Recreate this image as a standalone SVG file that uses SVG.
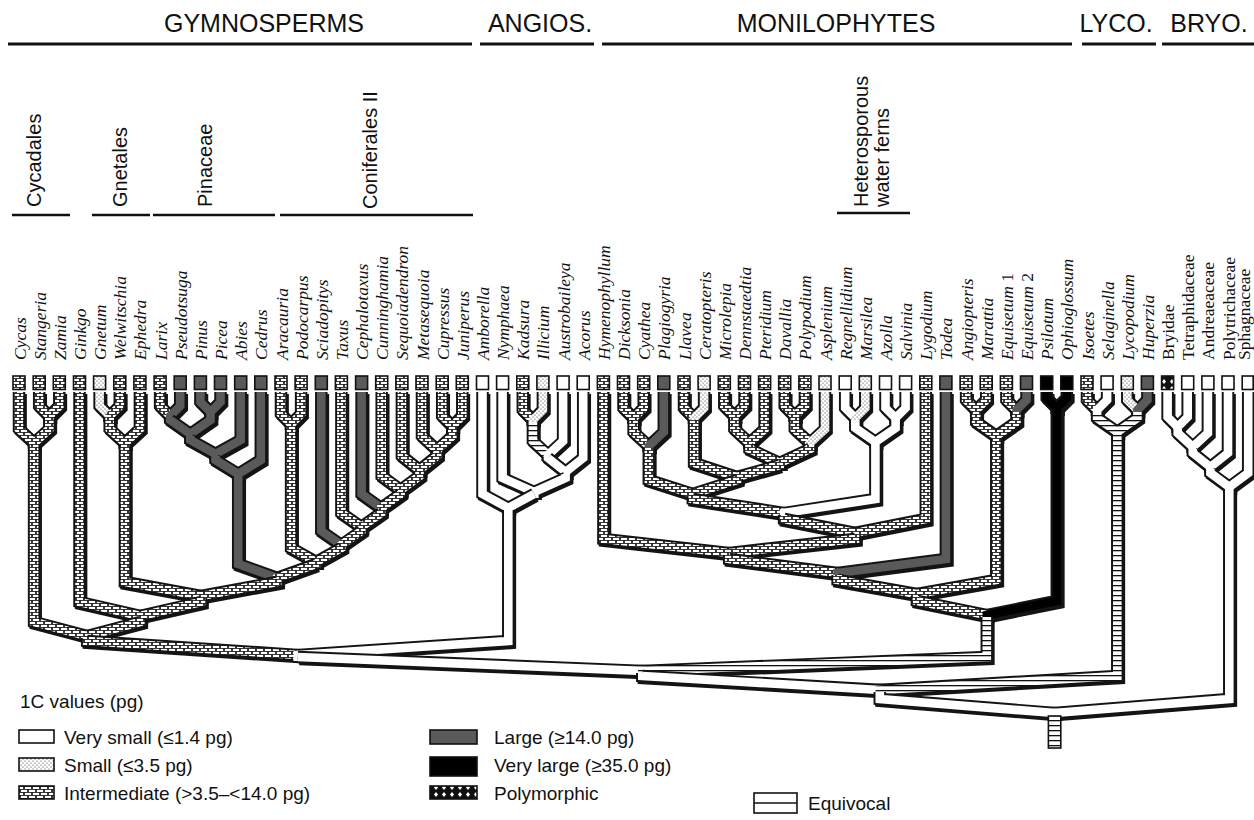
<svg xmlns="http://www.w3.org/2000/svg" width="1254" height="820" viewBox="0 0 1254 820">
<style>
.hd{font-family:"Liberation Sans",Arial,sans-serif;font-size:25px;text-anchor:middle;fill:#111}
.gl{font-family:"Liberation Sans",Arial,sans-serif;font-size:20px;fill:#111}
.tx{font-family:"Liberation Serif","Times New Roman",serif;font-size:17.5px;font-style:italic;fill:#111}
.rm{font-style:normal}
.lg{font-family:"Liberation Sans",Arial,sans-serif;font-size:19px;fill:#111}
.hb{stroke:#111;stroke-width:3}
.gb{stroke:#111;stroke-width:2.5}
.box{stroke:#111;stroke-width:1.6}
.bi{fill:url(#pInt)}.bs{fill:url(#pSm)}.bl{fill:#5a5a5a}.bv{fill:#000}.bw{fill:#fff}.bp{fill:url(#pPoly)}.be{fill:url(#pEq)}
#branches use{fill:none;stroke-linejoin:miter;stroke-miterlimit:6}
.o{stroke:#141414;stroke-width:12.5}
.f{stroke-width:8.6}
.fi{stroke:url(#pInt)}.fs{stroke:url(#pSm)}.fl{stroke:#5a5a5a}.fv{stroke:#000}.fw{stroke:#fff}.fe{stroke:url(#pEq)}
</style>
<defs>
<pattern id="pInt" width="8" height="6" patternUnits="userSpaceOnUse">
<rect width="8" height="6" fill="#222"/>
<rect x="0.9" y="0.9" width="6.2" height="2.1" fill="#fff"/>
<rect x="-3.1" y="3.9" width="6.2" height="2.1" fill="#fff"/>
<rect x="4.9" y="3.9" width="6.2" height="2.1" fill="#fff"/>
</pattern>
<pattern id="pSm" width="4" height="4" patternUnits="userSpaceOnUse">
<rect width="4" height="4" fill="#fff"/>
<circle cx="1" cy="1" r="0.6" fill="#333"/>
<circle cx="3" cy="3" r="0.6" fill="#333"/>
</pattern>
<pattern id="pEq" width="6" height="5" patternUnits="userSpaceOnUse">
<rect width="6" height="5" fill="#fff"/>
<rect width="6" height="1.3" fill="#111"/>
</pattern>
<pattern id="pPoly" width="8" height="7" patternUnits="userSpaceOnUse">
<rect width="8" height="7" fill="#111"/>
<path d="M4 1L6 3.5L4 6L2 3.5Z" fill="#fff"/>
</pattern>
<g id="edges">
<path id="e1" d="M39.2 392V406L49.3 416V422"/>
<path id="e2" d="M59.3 392V406L49.3 416V422"/>
<path id="e3" d="M19 392V429L34.1 443V449"/>
<path id="e4" d="M49.3 418V429L34.1 443V449"/>
<path id="e5" d="M99.6 392V406L109.7 416V422"/>
<path id="e6" d="M119.8 392V406L109.7 416V422"/>
<path id="e7" d="M109.7 418V429L124.9 443V449"/>
<path id="e8" d="M139.9 392V429L124.9 443V449"/>
<path id="e9" d="M160.1 392V406L170.2 416V422"/>
<path id="e10" d="M180.2 392V406L170.2 416V422"/>
<path id="e11" d="M200.4 392V402L210.5 412V418"/>
<path id="e12" d="M220.5 392V402L210.5 412V418"/>
<path id="e13" d="M170.2 418V420L190.3 434V440"/>
<path id="e14" d="M210.5 414V420L190.3 434V440"/>
<path id="e15" d="M190.3 436V440L215.5 454V460"/>
<path id="e16" d="M240.7 392V440L215.5 454V460"/>
<path id="e17" d="M215.5 456V460L238.2 474V480"/>
<path id="e18" d="M260.8 392V460L238.2 474V480"/>
<path id="e19" d="M281 392V414L291.1 424V430"/>
<path id="e20" d="M301.1 392V414L291.1 424V430"/>
<path id="e21" d="M442.2 392V416L452.3 426V432"/>
<path id="e22" d="M462.3 392V416L452.3 426V432"/>
<path id="e23" d="M422 392V436L437.1 450V456"/>
<path id="e24" d="M452.3 428V436L437.1 450V456"/>
<path id="e25" d="M401.9 392V456L419.5 470V476"/>
<path id="e26" d="M437.1 452V456L419.5 470V476"/>
<path id="e27" d="M381.7 392V476L400.6 490V496"/>
<path id="e28" d="M419.5 472V476L400.6 490V496"/>
<path id="e29" d="M361.6 392V494L381.1 508V514"/>
<path id="e30" d="M400.6 492V494L381.1 508V514"/>
<path id="e31" d="M341.4 392V513L361.3 527V533"/>
<path id="e32" d="M381.1 510V513L361.3 527V533"/>
<path id="e33" d="M321.3 392V531L341.3 545V551"/>
<path id="e34" d="M361.3 529V531L341.3 545V551"/>
<path id="e35" d="M291.1 426V548L316.2 562V568"/>
<path id="e36" d="M341.3 547V548L316.2 562V568"/>
<path id="e37" d="M238.2 476V564L277.2 578V584"/>
<path id="e38" d="M316.2 564L277.2 578V584"/>
<path id="e39" d="M124.9 445V582L201 596V602"/>
<path id="e40" d="M277.2 580V582L201 596V602"/>
<path id="e41" d="M79.5 392V602L140.3 616V622"/>
<path id="e42" d="M201 598V602L140.3 616V622"/>
<path id="e43" d="M34.1 445V622L87.2 636V642"/>
<path id="e44" d="M140.3 618V622L87.2 636V642"/>
<path id="e45" d="M522.8 392V410L532.9 420V426"/>
<path id="e46" d="M542.9 392V410L532.9 420V426"/>
<path id="e47" d="M532.9 422V441L548 455V461"/>
<path id="e48" d="M563.1 392V441L548 455V461"/>
<path id="e49" d="M548 457V458L565.6 472V478"/>
<path id="e50" d="M583.2 392V458L565.6 472V478"/>
<path id="e51" d="M502.6 392V478L534.1 492V498"/>
<path id="e52" d="M565.6 474V478L534.1 492V498"/>
<path id="e53" d="M482.5 392V494L508.3 508V514"/>
<path id="e54" d="M534.1 494L508.3 508V514"/>
<path id="e55" d="M87.2 638V641L297.8 655V661"/>
<path id="e56" d="M508.3 510V641L297.8 655V661"/>
<path id="e57" d="M623.5 392V408L633.6 418V424"/>
<path id="e58" d="M643.7 392V408L633.6 418V424"/>
<path id="e59" d="M633.6 420V432L648.8 446V452"/>
<path id="e60" d="M663.8 392V432L648.8 446V452"/>
<path id="e61" d="M684 392V408L694.1 418V424"/>
<path id="e62" d="M704.1 392V408L694.1 418V424"/>
<path id="e63" d="M724.3 392V406L734.4 416V422"/>
<path id="e64" d="M744.5 392V406L734.4 416V422"/>
<path id="e65" d="M734.4 418V429L749.5 443V449"/>
<path id="e66" d="M764.6 392V429L749.5 443V449"/>
<path id="e67" d="M784.7 392V406L794.8 416V422"/>
<path id="e68" d="M804.9 392V406L794.8 416V422"/>
<path id="e69" d="M794.8 418V429L809.9 443V449"/>
<path id="e70" d="M825 392V429L809.9 443V449"/>
<path id="e71" d="M749.5 445V449L779.7 463V469"/>
<path id="e72" d="M809.9 445V449L779.7 463V469"/>
<path id="e73" d="M694.1 420V463L736.9 477V483"/>
<path id="e74" d="M779.7 465L736.9 477V483"/>
<path id="e75" d="M648.8 448V480L692.8 494V500"/>
<path id="e76" d="M736.9 479V480L692.8 494V500"/>
<path id="e77" d="M845.2 392V408L855.3 418V424"/>
<path id="e78" d="M865.3 392V408L855.3 418V424"/>
<path id="e79" d="M885.5 392V408L895.6 418V424"/>
<path id="e80" d="M905.6 392V408L895.6 418V424"/>
<path id="e81" d="M855.3 420V428L875.4 442V448"/>
<path id="e82" d="M895.6 420V428L875.4 442V448"/>
<path id="e83" d="M692.8 496V499L784.1 513V519"/>
<path id="e84" d="M875.4 444V499L784.1 513V519"/>
<path id="e85" d="M784.1 515V519L855 533V539"/>
<path id="e86" d="M925.8 392V519L855 533V539"/>
<path id="e87" d="M603.4 392V539L729.2 553V559"/>
<path id="e88" d="M855 535V539L729.2 553V559"/>
<path id="e89" d="M729.2 555V559L837.6 573V579"/>
<path id="e90" d="M945.9 392V559L837.6 573V579"/>
<path id="e91" d="M966.1 392V400L976.2 410V416"/>
<path id="e92" d="M986.2 392V400L976.2 410V416"/>
<path id="e93" d="M1006.4 392V400L1016.5 410V416"/>
<path id="e94" d="M1026.5 392V400L1016.5 410V416"/>
<path id="e95" d="M976.2 412V422L996.3 436V442"/>
<path id="e96" d="M1016.5 412V422L996.3 436V442"/>
<path id="e97" d="M837.6 575V580L916.9 594V600"/>
<path id="e98" d="M996.3 438V580L916.9 594V600"/>
<path id="e99" d="M1046.7 392V398L1056.8 408V414"/>
<path id="e100" d="M1066.8 392V398L1056.8 408V414"/>
<path id="e101" d="M916.9 596V601L986.8 615V621"/>
<path id="e102" d="M1056.8 410V601L986.8 615V621"/>
<path id="e103" d="M297.8 657L642.3 671V677"/>
<path id="e104" d="M986.8 617V657L642.3 671V677"/>
<path id="e105" d="M1087 392V400L1097.1 410V416"/>
<path id="e106" d="M1107.1 392V400L1097.1 410V416"/>
<path id="e107" d="M1127.3 392V400L1137.4 410V416"/>
<path id="e108" d="M1147.4 392V400L1137.4 410V416"/>
<path id="e109" d="M1097.1 412V418L1117.3 432V438"/>
<path id="e110" d="M1137.4 412V418L1117.3 432V438"/>
<path id="e111" d="M642.3 673V676L879.8 690V696"/>
<path id="e112" d="M1117.3 434V676L879.8 690V696"/>
<path id="e113" d="M1167.6 392V417L1177.7 427V433"/>
<path id="e114" d="M1187.7 392V417L1177.7 427V433"/>
<path id="e115" d="M1177.7 429V433L1192.8 447V453"/>
<path id="e116" d="M1207.9 392V433L1192.8 447V453"/>
<path id="e117" d="M1192.8 449V453L1210.4 467V473"/>
<path id="e118" d="M1228 392V453L1210.4 467V473"/>
<path id="e119" d="M1210.4 469V473L1229.3 487V493"/>
<path id="e120" d="M1248.2 392V473L1229.3 487V493"/>
<path id="e121" d="M879.8 692V699L1054.6 713V719"/>
<path id="e122" d="M1229.3 489V699L1054.6 713V719"/>
</g>
</defs>
<rect width="1254" height="820" fill="#fff"/>

<g id="headers">
<text class="hd" x="264" y="32">GYMNOSPERMS</text>
<text class="hd" x="540" y="32">ANGIOS.</text>
<text class="hd" x="836" y="32">MONILOPHYTES</text>
<text class="hd" x="1116" y="32">LYCO.</text>
<text class="hd" x="1209" y="32">BRYO.</text>
<line class="hb" x1="8" y1="44" x2="472" y2="44"/>
<line class="hb" x1="480" y1="44" x2="594" y2="44"/>
<line class="hb" x1="602" y1="44" x2="1072" y2="44"/>
<line class="hb" x1="1082" y1="44" x2="1156" y2="44"/>
<line class="hb" x1="1162" y1="44" x2="1254" y2="44"/>
</g>

<g id="groups">
<text class="gl" transform="translate(40.5 207) rotate(-90)">Cycadales</text>
<line class="gb" x1="12" y1="215" x2="70" y2="215"/>
<text class="gl" transform="translate(127 207) rotate(-90)">Gnetales</text>
<line class="gb" x1="92" y1="215" x2="150" y2="215"/>
<text class="gl" transform="translate(212 207) rotate(-90)">Pinaceae</text>
<line class="gb" x1="153" y1="215" x2="275" y2="215"/>
<text class="gl" transform="translate(377 209) rotate(-90)">Coniferales II</text>
<line class="gb" x1="280" y1="215" x2="473" y2="215"/>
<text class="gl" transform="translate(868 207) rotate(-90)">Heterosporous</text>
<text class="gl" transform="translate(889 207) rotate(-90)">water ferns</text>
<line class="gb" x1="837" y1="213" x2="910" y2="213"/>
</g>

<g id="branches">
<use href="#edges" transform="translate(1.6 2)" style="fill:none;stroke:#141414;stroke-width:12.5;stroke-linejoin:miter"/>
<use class="o" href="#e1"/><use class="o" href="#e2"/><use class="f fi" href="#e1"/><use class="f fi" href="#e2"/>
<use class="o" href="#e3"/><use class="o" href="#e4"/><use class="f fi" href="#e3"/><use class="f fi" href="#e4"/>
<use class="o" href="#e5"/><use class="o" href="#e6"/><use class="f fs" href="#e5"/><use class="f fi" href="#e6"/>
<use class="o" href="#e7"/><use class="o" href="#e8"/><use class="f fi" href="#e7"/><use class="f fi" href="#e8"/>
<use class="o" href="#e9"/><use class="o" href="#e10"/><use class="f fi" href="#e9"/><use class="f fl" href="#e10"/>
<use class="o" href="#e11"/><use class="o" href="#e12"/><use class="f fl" href="#e11"/><use class="f fl" href="#e12"/>
<use class="o" href="#e13"/><use class="o" href="#e14"/><use class="f fl" href="#e13"/><use class="f fl" href="#e14"/>
<use class="o" href="#e15"/><use class="o" href="#e16"/><use class="f fl" href="#e15"/><use class="f fl" href="#e16"/>
<use class="o" href="#e17"/><use class="o" href="#e18"/><use class="f fl" href="#e17"/><use class="f fl" href="#e18"/>
<use class="o" href="#e19"/><use class="o" href="#e20"/><use class="f fi" href="#e19"/><use class="f fi" href="#e20"/>
<use class="o" href="#e21"/><use class="o" href="#e22"/><use class="f fi" href="#e21"/><use class="f fi" href="#e22"/>
<use class="o" href="#e23"/><use class="o" href="#e24"/><use class="f fi" href="#e23"/><use class="f fi" href="#e24"/>
<use class="o" href="#e25"/><use class="o" href="#e26"/><use class="f fi" href="#e25"/><use class="f fi" href="#e26"/>
<use class="o" href="#e27"/><use class="o" href="#e28"/><use class="f fi" href="#e27"/><use class="f fi" href="#e28"/>
<use class="o" href="#e29"/><use class="o" href="#e30"/><use class="f fl" href="#e29"/><use class="f fi" href="#e30"/>
<use class="o" href="#e31"/><use class="o" href="#e32"/><use class="f fi" href="#e31"/><use class="f fi" href="#e32"/>
<use class="o" href="#e33"/><use class="o" href="#e34"/><use class="f fl" href="#e33"/><use class="f fi" href="#e34"/>
<use class="o" href="#e35"/><use class="o" href="#e36"/><use class="f fi" href="#e35"/><use class="f fi" href="#e36"/>
<use class="o" href="#e37"/><use class="o" href="#e38"/><use class="f fl" href="#e37"/><use class="f fi" href="#e38"/>
<use class="o" href="#e39"/><use class="o" href="#e40"/><use class="f fi" href="#e39"/><use class="f fi" href="#e40"/>
<use class="o" href="#e41"/><use class="o" href="#e42"/><use class="f fi" href="#e41"/><use class="f fi" href="#e42"/>
<use class="o" href="#e43"/><use class="o" href="#e44"/><use class="f fi" href="#e43"/><use class="f fi" href="#e44"/>
<use class="o" href="#e45"/><use class="o" href="#e46"/><use class="f fi" href="#e45"/><use class="f fs" href="#e46"/>
<use class="o" href="#e47"/><use class="o" href="#e48"/><use class="f fe" href="#e47"/><use class="f fw" href="#e48"/>
<use class="o" href="#e49"/><use class="o" href="#e50"/><use class="f fw" href="#e49"/><use class="f fw" href="#e50"/>
<use class="o" href="#e51"/><use class="o" href="#e52"/><use class="f fw" href="#e51"/><use class="f fw" href="#e52"/>
<use class="o" href="#e53"/><use class="o" href="#e54"/><use class="f fw" href="#e53"/><use class="f fw" href="#e54"/>
<use class="o" href="#e55"/><use class="o" href="#e56"/><use class="f fi" href="#e55"/><use class="f fw" href="#e56"/>
<use class="o" href="#e57"/><use class="o" href="#e58"/><use class="f fi" href="#e57"/><use class="f fi" href="#e58"/>
<use class="o" href="#e59"/><use class="o" href="#e60"/><use class="f fi" href="#e59"/><use class="f fl" href="#e60"/>
<use class="o" href="#e61"/><use class="o" href="#e62"/><use class="f fi" href="#e61"/><use class="f fs" href="#e62"/>
<use class="o" href="#e63"/><use class="o" href="#e64"/><use class="f fi" href="#e63"/><use class="f fi" href="#e64"/>
<use class="o" href="#e65"/><use class="o" href="#e66"/><use class="f fi" href="#e65"/><use class="f fi" href="#e66"/>
<use class="o" href="#e67"/><use class="o" href="#e68"/><use class="f fi" href="#e67"/><use class="f fi" href="#e68"/>
<use class="o" href="#e69"/><use class="o" href="#e70"/><use class="f fi" href="#e69"/><use class="f fs" href="#e70"/>
<use class="o" href="#e71"/><use class="o" href="#e72"/><use class="f fi" href="#e71"/><use class="f fi" href="#e72"/>
<use class="o" href="#e73"/><use class="o" href="#e74"/><use class="f fi" href="#e73"/><use class="f fi" href="#e74"/>
<use class="o" href="#e75"/><use class="o" href="#e76"/><use class="f fi" href="#e75"/><use class="f fi" href="#e76"/>
<use class="o" href="#e77"/><use class="o" href="#e78"/><use class="f fw" href="#e77"/><use class="f fs" href="#e78"/>
<use class="o" href="#e79"/><use class="o" href="#e80"/><use class="f fw" href="#e79"/><use class="f fw" href="#e80"/>
<use class="o" href="#e81"/><use class="o" href="#e82"/><use class="f fw" href="#e81"/><use class="f fw" href="#e82"/>
<use class="o" href="#e83"/><use class="o" href="#e84"/><use class="f fi" href="#e83"/><use class="f fw" href="#e84"/>
<use class="o" href="#e85"/><use class="o" href="#e86"/><use class="f fi" href="#e85"/><use class="f fi" href="#e86"/>
<use class="o" href="#e87"/><use class="o" href="#e88"/><use class="f fi" href="#e87"/><use class="f fi" href="#e88"/>
<use class="o" href="#e89"/><use class="o" href="#e90"/><use class="f fi" href="#e89"/><use class="f fl" href="#e90"/>
<use class="o" href="#e91"/><use class="o" href="#e92"/><use class="f fi" href="#e91"/><use class="f fi" href="#e92"/>
<use class="o" href="#e93"/><use class="o" href="#e94"/><use class="f fi" href="#e93"/><use class="f fl" href="#e94"/>
<use class="o" href="#e95"/><use class="o" href="#e96"/><use class="f fi" href="#e95"/><use class="f fi" href="#e96"/>
<use class="o" href="#e97"/><use class="o" href="#e98"/><use class="f fi" href="#e97"/><use class="f fi" href="#e98"/>
<use class="o" href="#e99"/><use class="o" href="#e100"/><use class="f fv" href="#e99"/><use class="f fv" href="#e100"/>
<use class="o" href="#e101"/><use class="o" href="#e102"/><use class="f fi" href="#e101"/><use class="f fv" href="#e102"/>
<use class="o" href="#e103"/><use class="o" href="#e104"/><use class="f fw" href="#e103"/><use class="f fe" href="#e104"/>
<use class="o" href="#e105"/><use class="o" href="#e106"/><use class="f fi" href="#e105"/><use class="f fw" href="#e106"/>
<use class="o" href="#e107"/><use class="o" href="#e108"/><use class="f fs" href="#e107"/><use class="f fl" href="#e108"/>
<use class="o" href="#e109"/><use class="o" href="#e110"/><use class="f fe" href="#e109"/><use class="f fe" href="#e110"/>
<use class="o" href="#e111"/><use class="o" href="#e112"/><use class="f fw" href="#e111"/><use class="f fe" href="#e112"/>
<use class="o" href="#e113"/><use class="o" href="#e114"/><use class="f fw" href="#e113"/><use class="f fw" href="#e114"/>
<use class="o" href="#e115"/><use class="o" href="#e116"/><use class="f fw" href="#e115"/><use class="f fw" href="#e116"/>
<use class="o" href="#e117"/><use class="o" href="#e118"/><use class="f fw" href="#e117"/><use class="f fw" href="#e118"/>
<use class="o" href="#e119"/><use class="o" href="#e120"/><use class="f fw" href="#e119"/><use class="f fw" href="#e120"/>
<use class="o" href="#e121"/><use class="o" href="#e122"/><use class="f fw" href="#e121"/><use class="f fw" href="#e122"/>
<rect class="box be" x="1048.4" y="716" width="12.4" height="32"/>
</g>

<g id="taxa">
<g id="t-cycas"><rect class="box bi" x="13" y="376" width="12" height="13.5"/><text class="tx" transform="translate(25.5 360) rotate(-90)">Cycas</text></g>
<g id="t-stangeria"><rect class="box bi" x="33.2" y="376" width="12" height="13.5"/><text class="tx" transform="translate(45.7 360) rotate(-90)">Stangeria</text></g>
<g id="t-zamia"><rect class="box bi" x="53.3" y="376" width="12" height="13.5"/><text class="tx" transform="translate(65.8 360) rotate(-90)">Zamia</text></g>
<g id="t-ginkgo"><rect class="box bi" x="73.5" y="376" width="12" height="13.5"/><text class="tx" transform="translate(86 360) rotate(-90)">Ginkgo</text></g>
<g id="t-gnetum"><rect class="box bs" x="93.6" y="376" width="12" height="13.5"/><text class="tx" transform="translate(106.1 360) rotate(-90)">Gnetum</text></g>
<g id="t-welwitschia"><rect class="box bi" x="113.8" y="376" width="12" height="13.5"/><text class="tx" transform="translate(126.3 360) rotate(-90)">Welwitschia</text></g>
<g id="t-ephedra"><rect class="box bi" x="133.9" y="376" width="12" height="13.5"/><text class="tx" transform="translate(146.4 360) rotate(-90)">Ephedra</text></g>
<g id="t-larix"><rect class="box bi" x="154.1" y="376" width="12" height="13.5"/><text class="tx" transform="translate(166.6 360) rotate(-90)">Larix</text></g>
<g id="t-pseudotsuga"><rect class="box bl" x="174.2" y="376" width="12" height="13.5"/><text class="tx" transform="translate(186.7 360) rotate(-90)">Pseudotsuga</text></g>
<g id="t-pinus"><rect class="box bl" x="194.4" y="376" width="12" height="13.5"/><text class="tx" transform="translate(206.9 360) rotate(-90)">Pinus</text></g>
<g id="t-picea"><rect class="box bl" x="214.5" y="376" width="12" height="13.5"/><text class="tx" transform="translate(227 360) rotate(-90)">Picea</text></g>
<g id="t-abies"><rect class="box bl" x="234.7" y="376" width="12" height="13.5"/><text class="tx" transform="translate(247.2 360) rotate(-90)">Abies</text></g>
<g id="t-cedrus"><rect class="box bl" x="254.8" y="376" width="12" height="13.5"/><text class="tx" transform="translate(267.3 360) rotate(-90)">Cedrus</text></g>
<g id="t-aracauria"><rect class="box bi" x="275" y="376" width="12" height="13.5"/><text class="tx" transform="translate(287.5 360) rotate(-90)">Aracauria</text></g>
<g id="t-podocarpus"><rect class="box bi" x="295.1" y="376" width="12" height="13.5"/><text class="tx" transform="translate(307.6 360) rotate(-90)">Podocarpus</text></g>
<g id="t-sciadopitys"><rect class="box bl" x="315.3" y="376" width="12" height="13.5"/><text class="tx" transform="translate(327.8 360) rotate(-90)">Sciadopitys</text></g>
<g id="t-taxus"><rect class="box bi" x="335.4" y="376" width="12" height="13.5"/><text class="tx" transform="translate(347.9 360) rotate(-90)">Taxus</text></g>
<g id="t-cephalotaxus"><rect class="box bl" x="355.6" y="376" width="12" height="13.5"/><text class="tx" transform="translate(368.1 360) rotate(-90)">Cephalotaxus</text></g>
<g id="t-cunninghamia"><rect class="box bi" x="375.7" y="376" width="12" height="13.5"/><text class="tx" transform="translate(388.2 360) rotate(-90)">Cunninghamia</text></g>
<g id="t-sequoiadendron"><rect class="box bi" x="395.9" y="376" width="12" height="13.5"/><text class="tx" transform="translate(408.4 360) rotate(-90)">Sequoiadendron</text></g>
<g id="t-metasequoia"><rect class="box bi" x="416" y="376" width="12" height="13.5"/><text class="tx" transform="translate(428.5 360) rotate(-90)">Metasequoia</text></g>
<g id="t-cupressus"><rect class="box bi" x="436.2" y="376" width="12" height="13.5"/><text class="tx" transform="translate(448.7 360) rotate(-90)">Cupressus</text></g>
<g id="t-juniperus"><rect class="box bi" x="456.3" y="376" width="12" height="13.5"/><text class="tx" transform="translate(468.8 360) rotate(-90)">Juniperus</text></g>
<g id="t-amborella"><rect class="box bw" x="476.5" y="376" width="12" height="13.5"/><text class="tx" transform="translate(489 360) rotate(-90)">Amborella</text></g>
<g id="t-nymphaea"><rect class="box bw" x="496.6" y="376" width="12" height="13.5"/><text class="tx" transform="translate(509.1 360) rotate(-90)">Nymphaea</text></g>
<g id="t-kadsura"><rect class="box bi" x="516.8" y="376" width="12" height="13.5"/><text class="tx" transform="translate(529.3 360) rotate(-90)">Kadsura</text></g>
<g id="t-illicium"><rect class="box bs" x="536.9" y="376" width="12" height="13.5"/><text class="tx" transform="translate(549.4 360) rotate(-90)">Illicium</text></g>
<g id="t-austrobaileya"><rect class="box bw" x="557.1" y="376" width="12" height="13.5"/><text class="tx" transform="translate(569.6 360) rotate(-90)">Austrobaileya</text></g>
<g id="t-acorus"><rect class="box bw" x="577.2" y="376" width="12" height="13.5"/><text class="tx" transform="translate(589.7 360) rotate(-90)">Acorus</text></g>
<g id="t-hymenophyllum"><rect class="box bi" x="597.4" y="376" width="12" height="13.5"/><text class="tx" transform="translate(609.9 360) rotate(-90)">Hymenophyllum</text></g>
<g id="t-dicksonia"><rect class="box bi" x="617.5" y="376" width="12" height="13.5"/><text class="tx" transform="translate(630 360) rotate(-90)">Dicksonia</text></g>
<g id="t-cyathea"><rect class="box bi" x="637.7" y="376" width="12" height="13.5"/><text class="tx" transform="translate(650.2 360) rotate(-90)">Cyathea</text></g>
<g id="t-plagiogyria"><rect class="box bl" x="657.8" y="376" width="12" height="13.5"/><text class="tx" transform="translate(670.3 360) rotate(-90)">Plagiogyria</text></g>
<g id="t-llavea"><rect class="box bi" x="678" y="376" width="12" height="13.5"/><text class="tx" transform="translate(690.5 360) rotate(-90)">Llavea</text></g>
<g id="t-ceratopteris"><rect class="box bs" x="698.1" y="376" width="12" height="13.5"/><text class="tx" transform="translate(710.6 360) rotate(-90)">Ceratopteris</text></g>
<g id="t-microlepia"><rect class="box bi" x="718.3" y="376" width="12" height="13.5"/><text class="tx" transform="translate(730.8 360) rotate(-90)">Microlepia</text></g>
<g id="t-dennstaedtia"><rect class="box bi" x="738.5" y="376" width="12" height="13.5"/><text class="tx" transform="translate(751 360) rotate(-90)">Dennstaedtia</text></g>
<g id="t-pteridium"><rect class="box bi" x="758.6" y="376" width="12" height="13.5"/><text class="tx" transform="translate(771.1 360) rotate(-90)">Pteridium</text></g>
<g id="t-davallia"><rect class="box bi" x="778.7" y="376" width="12" height="13.5"/><text class="tx" transform="translate(791.2 360) rotate(-90)">Davallia</text></g>
<g id="t-polypodium"><rect class="box bi" x="798.9" y="376" width="12" height="13.5"/><text class="tx" transform="translate(811.4 360) rotate(-90)">Polypodium</text></g>
<g id="t-asplenium"><rect class="box bs" x="819" y="376" width="12" height="13.5"/><text class="tx" transform="translate(831.5 360) rotate(-90)">Asplenium</text></g>
<g id="t-regnellidium"><rect class="box bw" x="839.2" y="376" width="12" height="13.5"/><text class="tx" transform="translate(851.7 360) rotate(-90)">Regnellidium</text></g>
<g id="t-marsilea"><rect class="box bs" x="859.3" y="376" width="12" height="13.5"/><text class="tx" transform="translate(871.8 360) rotate(-90)">Marsilea</text></g>
<g id="t-azolla"><rect class="box bw" x="879.5" y="376" width="12" height="13.5"/><text class="tx" transform="translate(892 360) rotate(-90)">Azolla</text></g>
<g id="t-salvinia"><rect class="box bw" x="899.6" y="376" width="12" height="13.5"/><text class="tx" transform="translate(912.1 360) rotate(-90)">Salvinia</text></g>
<g id="t-lygodium"><rect class="box bi" x="919.8" y="376" width="12" height="13.5"/><text class="tx" transform="translate(932.3 360) rotate(-90)">Lygodium</text></g>
<g id="t-todea"><rect class="box bl" x="939.9" y="376" width="12" height="13.5"/><text class="tx" transform="translate(952.4 360) rotate(-90)">Todea</text></g>
<g id="t-angiopteris"><rect class="box bi" x="960.1" y="376" width="12" height="13.5"/><text class="tx" transform="translate(972.6 360) rotate(-90)">Angiopteris</text></g>
<g id="t-marattia"><rect class="box bi" x="980.2" y="376" width="12" height="13.5"/><text class="tx" transform="translate(992.7 360) rotate(-90)">Marattia</text></g>
<g id="t-equisetum1"><rect class="box bi" x="1000.4" y="376" width="12" height="13.5"/><text class="tx" transform="translate(1012.9 360) rotate(-90)">Equisetum<tspan class="rm"> 1</tspan></text></g>
<g id="t-equisetum2"><rect class="box bl" x="1020.5" y="376" width="12" height="13.5"/><text class="tx" transform="translate(1033 360) rotate(-90)">Equisetum<tspan class="rm"> 2</tspan></text></g>
<g id="t-psilotum"><rect class="box bv" x="1040.7" y="376" width="12" height="13.5"/><text class="tx" transform="translate(1053.2 360) rotate(-90)">Psilotum</text></g>
<g id="t-ophioglossum"><rect class="box bv" x="1060.8" y="376" width="12" height="13.5"/><text class="tx" transform="translate(1073.3 360) rotate(-90)">Ophioglossum</text></g>
<g id="t-isoetes"><rect class="box bi" x="1081" y="376" width="12" height="13.5"/><text class="tx" transform="translate(1093.5 360) rotate(-90)">Isoetes</text></g>
<g id="t-selaginella"><rect class="box bw" x="1101.1" y="376" width="12" height="13.5"/><text class="tx" transform="translate(1113.6 360) rotate(-90)">Selaginella</text></g>
<g id="t-lycopodium"><rect class="box bs" x="1121.3" y="376" width="12" height="13.5"/><text class="tx" transform="translate(1133.8 360) rotate(-90)">Lycopodium</text></g>
<g id="t-huperzia"><rect class="box bl" x="1141.4" y="376" width="12" height="13.5"/><text class="tx" transform="translate(1153.9 360) rotate(-90)">Huperzia</text></g>
<g id="t-bryidae"><rect class="box bp" x="1161.6" y="376" width="12" height="13.5"/><text class="tx rm" transform="translate(1174.1 360) rotate(-90)">Bryidae</text></g>
<g id="t-tetraphidaceae"><rect class="box bw" x="1181.7" y="376" width="12" height="13.5"/><text class="tx rm" transform="translate(1194.2 360) rotate(-90)">Tetraphidaceae</text></g>
<g id="t-andreaeaceae"><rect class="box bw" x="1201.9" y="376" width="12" height="13.5"/><text class="tx rm" transform="translate(1214.4 360) rotate(-90)">Andreaeaceae</text></g>
<g id="t-polytrichaceae"><rect class="box bw" x="1222" y="376" width="12" height="13.5"/><text class="tx rm" transform="translate(1234.5 360) rotate(-90)">Polytrichaceae</text></g>
<g id="t-sphagnaceae"><rect class="box bw" x="1242.2" y="376" width="11" height="13.5"/><text class="tx rm" transform="translate(1249.5 360) rotate(-90)">Sphagnaceae</text></g>
</g>

<g id="legend">
<text class="lg" x="20" y="708">1C values (pg)</text>
<rect class="box bw" x="19" y="730" width="35" height="13"/>
<text class="lg" x="64" y="744">Very small (≤1.4 pg)</text>
<rect class="box bs" x="19" y="758" width="35" height="13"/>
<text class="lg" x="64" y="772">Small (≤3.5 pg)</text>
<rect class="box bi" x="19" y="786" width="35" height="13"/>
<text class="lg" x="64" y="800">Intermediate (&gt;3.5–&lt;14.0 pg)</text>
<rect class="box bl" x="430" y="730" width="47" height="14"/>
<text class="lg" x="494" y="744">Large (≥14.0 pg)</text>
<rect class="box bv" x="430" y="757" width="47" height="19"/>
<text class="lg" x="494" y="772">Very large (≥35.0 pg)</text>
<rect class="box bp" x="430" y="786" width="47" height="13"/>
<text class="lg" x="494" y="800">Polymorphic</text>
<rect class="box bw" x="754" y="793" width="43" height="20"/>
<line class="box" x1="754" y1="803" x2="797" y2="803"/>
<text class="lg" x="808" y="810">Equivocal</text>
</g>
</svg>
